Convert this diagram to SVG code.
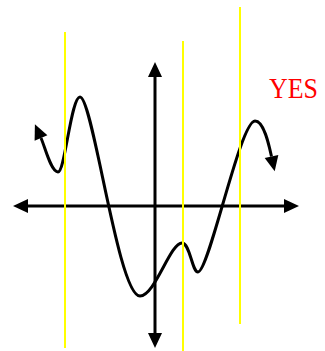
<svg xmlns="http://www.w3.org/2000/svg" width="325" height="351" viewBox="0 0 325 351">
<style>
.ax{stroke:#000;stroke-width:3;fill:none}
.yl{stroke:#ffff00;stroke-width:2}
.lbl{font-family:"Liberation Serif","Times New Roman",serif;font-size:29px;fill:#ff0000}
</style>
<defs>
<marker id="ah" markerUnits="userSpaceOnUse" markerWidth="16" markerHeight="15" refX="0" refY="7" orient="auto-start-reverse" viewBox="0 0 16 14" overflow="visible">
<path d="M0,0 L15,7 L0,14 z" fill="#000"/>
</marker>
</defs>
<rect width="325" height="351" fill="#fff"/>
<g id="connectors">
<line id="xaxis" class="ax" x1="28" y1="206" x2="284" y2="206" marker-start="url(#ah)" marker-end="url(#ah)"/>
<line id="yaxis" class="ax" x1="155" y1="77" x2="155" y2="333" marker-start="url(#ah)" marker-end="url(#ah)"/>
<path id="curve" class="ax" d="M41,138 C45,147 51,172 58,172 C65,172 71,97 80,97 C93,97 118,296 140,296 C155,296 170,243 182,243 C190,243 192,272 198,272 C209,272 240,121 255,121 C264,121 269,145 271.5,156.5" marker-start="url(#ah)" marker-end="url(#ah)"/>
</g>
<g id="guides">
<line class="yl" x1="65" y1="32" x2="65" y2="348"/>
<line class="yl" x1="183" y1="41" x2="183" y2="351"/>
<line class="yl" x1="240" y1="7" x2="240" y2="324"/>
</g>
<g id="label">
<text class="lbl" x="269" y="98" textLength="49" lengthAdjust="spacingAndGlyphs">YES</text>
</g>
</svg>
